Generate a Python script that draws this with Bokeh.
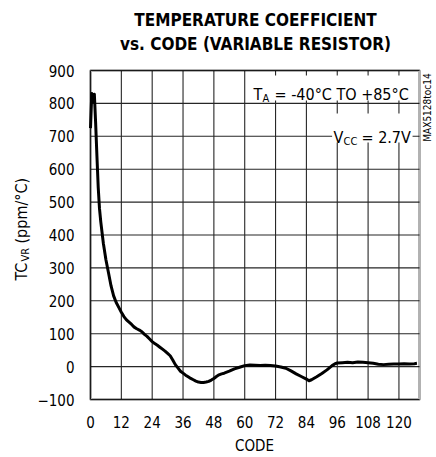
import math
from bokeh.plotting import figure
from bokeh.models import Label, BoxAnnotation, FixedTicker
from bokeh.embed import file_html
from bokeh.resources import INLINE

# ---- data ----
codes = [0, 0.5, 1, 1.5, 2, 2.5, 3, 3.5, 4, 5, 6, 7, 8, 9, 10, 11, 12, 13, 14, 15,
         16, 17, 18, 19, 20, 21, 22, 23, 24, 25, 26, 27, 28, 29, 30, 31, 32, 33, 34,
         35, 36, 37, 38, 39, 40, 41, 42, 43, 44, 45, 46, 47, 48, 49, 50, 51, 52, 54,
         56, 58, 60, 62, 64, 66, 68, 70, 72, 74, 76, 78, 80, 82, 84, 85, 86, 88, 90,
         92, 94, 95, 96, 98, 100, 102, 104, 106, 108, 110, 112, 114, 116, 118, 120,
         122, 124, 126, 127]
tc_vr = [725, 830, 805, 828, 740, 640, 545, 480, 440, 375, 325, 285, 245, 215, 195,
         180, 165, 152, 142, 135, 128, 120, 115, 111, 106, 98, 92, 84, 76, 70, 65, 59,
         53, 47, 40, 33, 20, 6, -4, -14, -20, -26, -31, -36, -40, -44, -47, -48, -48,
         -47, -45, -41, -36, -30, -25, -22, -20, -14, -7, -2, 3, 5, 4, 3, 4, 3, 2, -1,
         -5, -13, -22, -30, -38, -43, -40, -31, -21, -10, 3, 8, 11, 12, 13, 12, 14, 13,
         12, 10, 7, 6, 7, 8, 8, 9, 8, 9, 10]

x_ticks = [0, 12, 24, 36, 48, 60, 72, 84, 96, 108, 120]
y_ticks = [-100, 0, 100, 200, 300, 400, 500, 600, 700, 800, 900]
x_min, x_max = 0, 128
y_min, y_max = -100, 900

title_lines = ["TEMPERATURE COEFFICIENT", "vs. CODE (VARIABLE RESISTOR)"]
x_label = "CODE"
y_label_parts = ["TC", "VR", "(ppm/°C)"]
note_ta = ["T", "A", "= -40°C TO +85°C"]
note_vcc = ["V", "CC", "= 2.7V"]
fig_id = "MAX5128toc14"

FONT = "DejaVu Sans Condensed, Liberation Sans, sans-serif"

# canvas layout: plot box from canvas x 90..419, y 70..399
W, H = 436, 457
L, R, T, B = 90, 419, 70, 399
sx = (R - L) / (x_max - x_min)
sy = (B - T) / (y_max - y_min)
xr = (x_min - L / sx, x_max + (W - R) / sx)
yr = (y_min - (H - B) / sy, y_max + T / sy)

p = figure(width=W, height=H, x_range=xr, y_range=yr,
           output_backend="svg", toolbar_location=None, min_border=0)
p.background_fill_color = "white"
p.border_fill_color = "white"
p.outline_line_color = None
p.xgrid.visible = False
p.ygrid.visible = False

p.xaxis.fixed_location = y_min
p.yaxis.fixed_location = x_min
for ax in (p.xaxis[0], p.yaxis[0]):
    ax.axis_line_color = None
    ax.major_tick_line_color = None
    ax.minor_tick_line_color = None
    ax.major_tick_in = 0
    ax.major_tick_out = 0
    ax.minor_tick_in = 0
    ax.minor_tick_out = 0
    ax.major_label_text_font = FONT
    ax.major_label_text_font_size = "15px"
    ax.major_label_text_color = "black"
p.xaxis.ticker = FixedTicker(ticks=x_ticks)
p.yaxis.ticker = FixedTicker(ticks=y_ticks)
p.xaxis.major_label_standoff = 16
p.yaxis.major_label_standoff = 16

# grid lines at the tick positions, limited to the plot box
p.segment(x0=x_ticks, y0=[y_min] * len(x_ticks), x1=x_ticks, y1=[y_max] * len(x_ticks),
          line_color="#262626", line_width=1.1)
p.segment(x0=[x_min] * len(y_ticks), y0=y_ticks, x1=[x_max] * len(y_ticks), y1=y_ticks,
          line_color="#262626", line_width=1.1)

p.line(codes, tc_vr, line_color="black", line_width=3, line_join="round")

# white boxes behind the notes
p.add_layout(BoxAnnotation(left=62.2, right=126.1, top=885, bottom=809,
                           fill_color="white", fill_alpha=1, line_color=None))
p.add_layout(BoxAnnotation(left=94.0, right=125.3, top=769, bottom=681,
                           fill_color="white", fill_alpha=1, line_color=None))
# plot box border
p.add_layout(BoxAnnotation(left=x_min, right=x_max, top=y_max, bottom=y_min,
                           fill_alpha=0, line_color="black", line_width=3))

def lab(text, xo, yo, size, align="left", baseline="alphabetic", style="normal",
        angle=0.0):
    # offsets in px from the plot box's bottom-left corner
    p.add_layout(Label(x=x_min, y=y_min, x_offset=xo, y_offset=yo, text=text,
                       text_font=FONT, text_font_size=size,
                       text_font_style=style, text_align=align,
                       text_baseline=baseline, angle=angle, text_color="black"))

lab(title_lines[0], 165, 380, "17px", align="center", baseline="middle", style="bold")
lab(title_lines[1], 165, 356, "17px", align="center", baseline="middle", style="bold")

lab(x_label, 164, -46, "15px", align="center", baseline="middle")

ang = math.pi / 2
y0 = 119
lab(y_label_parts[0], -69, y0, "16px", baseline="middle", angle=ang)
lab(y_label_parts[1], -65, y0 + 19, "11px", baseline="middle", angle=ang)
lab(y_label_parts[2], -69, y0 + 37, "16px", baseline="middle", angle=ang)

lab(note_ta[0], 163, 305, "16px")
lab(note_ta[1], 172, 301, "11px")
lab(note_ta[2], 184, 305, "16px")

lab(note_vcc[0], 243, 262, "16px")
lab(note_vcc[1], 253, 258, "11px")
lab(note_vcc[2], 271, 262, "16px")

lab(fig_id, 337, 292, "10px", align="center", baseline="middle", angle=ang)

open("out.html", "w").write(file_html(p, INLINE))
